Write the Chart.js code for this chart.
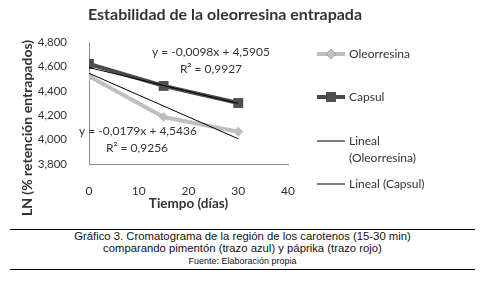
<!DOCTYPE html>
<html>
<head>
<meta charset="utf-8">
<script src="https://cdn.jsdelivr.net/npm/chart.js@4.4.0/dist/chart.umd.min.js"></script>
<style>
  body { margin: 0; background: #fff; width: 488px; height: 282px; position: relative; overflow: hidden; }
  #chart1 { position: absolute; left: 0; top: 0; }
  .caption { position: absolute; left: 10px; width: 465px; top: 229px; height: 39px;
    border-top: 1px solid #000; border-bottom: 1px solid #000;
    font-family: "Liberation Sans", Arial, sans-serif; color: #111; text-align: center; }
  .caption .l1 { position: absolute; left: 0; right: 0; font-size: 11.3px; line-height: 13px; }
  .caption .l3 { position: absolute; left: 0; right: 0; font-size: 9px; line-height: 11px; }
</style>
</head>
<body>
<canvas id="chart1" width="488" height="222"></canvas>
<div class="caption">
  <div class="l1" style="top:0px">Gráfico 3. Cromatograma de la región de los carotenos (15-30 min)</div>
  <div class="l1" style="top:12px">comparando pimentón (trazo azul) y páprika (trazo rojo)</div>
  <div class="l3" style="top:26px">Fuente: Elaboración propia</div>
</div>
<script>
// tiempo (días)
var dias = [0, 15, 30];
var oleorresina = [4.52, 4.185, 4.065];
var capsul = [4.62, 4.44, 4.30];

var tendDias = [0, 30];
var tendOleorresina = [4.5436, 4.0066];
var tendCapsul = [4.5905, 4.2965];

var ecuOleorresina = ["y = -0,0179x + 4,5436", "R² = 0,9256"];
var ecuCapsul = ["y = -0,0098x + 4,5905", "R² = 0,9927"];

var titulo = "Estabilidad de la oleorresina entrapada";
var tituloY = "LN (% retención entrapados)";
var tituloX = "Tiempo (días)";

function pares(xs, ys) {
  return xs.map(function (x, i) {
    return { x: x, y: ys[i] };
  });
}

var FONT = "Lato, 'Open Sans', sans-serif";
var TXT = "#333333";

// titulo, eje Y, ecuaciones y leyenda
var extras = {
  id: "extras",
  afterDraw: function (chart) {
    var ctx = chart.ctx;
    ctx.save();
    ctx.fillStyle = TXT;
    ctx.textBaseline = "middle";

    ctx.font = "bold 16px " + FONT;
    ctx.textAlign = "center";
    ctx.fillText(titulo, 225, 15);

    ctx.save();
    ctx.translate(27, 128);
    ctx.rotate(-Math.PI / 2);
    ctx.font = "bold 14px " + FONT;
    ctx.fillText(tituloY, 0, 0);
    ctx.restore();

    ctx.font = "12px " + FONT;
    ctx.fillText(ecuCapsul[0], 211, 52);
    ctx.fillText(ecuCapsul[1], 211, 69);
    ctx.fillText(ecuOleorresina[0], 138, 131);
    ctx.fillText(ecuOleorresina[1], 137, 148);

    // leyenda
    var rows = [54, 97, 141, 184];
    ctx.textAlign = "left";
    chart.data.datasets.forEach(function (ds, i) {
      var y = rows[i];
      ctx.strokeStyle = ds.borderColor;
      ctx.lineWidth = ds.borderWidth;
      ctx.beginPath();
      ctx.moveTo(317, y);
      ctx.lineTo(345, y);
      ctx.stroke();
      if (ds.pointRadius > 0) {
        Chart.helpers.drawPoint(ctx, {
          pointStyle: ds.pointStyle,
          radius: ds.pointRadius,
          borderWidth: 0,
          rotation: 0
        }, 331, y);
        ctx.fillStyle = ds.pointBackgroundColor;
        ctx.fill();
      }
      ctx.fillStyle = TXT;
      ds.legendText.forEach(function (t, k) {
        ctx.fillText(t, 349, y + k * 17);
      });
    });
    ctx.restore();
  }
};

var ctx = document.getElementById("chart1");
var myChart = new Chart(ctx, {
  type: "line",
  data: {
    datasets: [
      {
        label: "Oleorresina",
        legendText: ["Oleorresina"],
        data: pares(dias, oleorresina),
        borderColor: "#bfbfbf",
        backgroundColor: "#bfbfbf",
        pointBackgroundColor: "#bfbfbf",
        borderWidth: 4,
        pointStyle: "rectRot",
        pointRadius: 5,
        pointBorderWidth: 0,
        order: 3
      },
      {
        label: "Capsul",
        legendText: ["Capsul"],
        data: pares(dias, capsul),
        borderColor: "#4a4a4a",
        backgroundColor: "#4a4a4a",
        pointBackgroundColor: "#4f4f4f",
        borderWidth: 4,
        pointStyle: "rect",
        pointRadius: 7,
        pointBorderWidth: 0,
        order: 2
      },
      {
        label: "Lineal (Oleorresina)",
        legendText: ["Lineal", "(Oleorresina)"],
        data: pares(tendDias, tendOleorresina),
        borderColor: "#000000",
        borderWidth: 1,
        pointRadius: 0,
        order: 1
      },
      {
        label: "Lineal (Capsul)",
        legendText: ["Lineal (Capsul)"],
        data: pares(tendDias, tendCapsul),
        borderColor: "#000000",
        borderWidth: 1,
        pointRadius: 0,
        order: 0
      }
    ]
  },
  options: {
    responsive: false,
    animation: false,
    devicePixelRatio: 1,
    layout: { padding: { left: 0, top: 42, right: 200, bottom: 6 } },
    plugins: {
      legend: { display: false },
      tooltip: { enabled: false }
    },
    scales: {
      x: {
        type: "linear",
        min: 0,
        max: 40,
        ticks: { stepSize: 10, padding: 12, color: TXT, font: { family: FONT, size: 12 } },
        grid: { display: false },
        border: { display: true, color: "#8c8c8c", width: 1 },
        title: { display: true, text: tituloX, color: TXT, padding: { top: 4, bottom: 4 },
          font: { family: FONT, size: 13.5, weight: "bold" } },
        afterFit: function (s) { s.height = 52; }
      },
      y: {
        min: 3.8,
        max: 4.8,
        ticks: {
          stepSize: 0.2,
          padding: 14,
          color: TXT,
          font: { family: FONT, size: 11.5 },
          callback: function (v) { return v.toFixed(3).replace(".", ","); }
        },
        grid: { display: false },
        border: { display: true, color: "#8c8c8c", width: 1 },
        afterFit: function (s) { s.width = 89; }
      }
    }
  },
  plugins: [extras]
});
</script>
</body>
</html>
